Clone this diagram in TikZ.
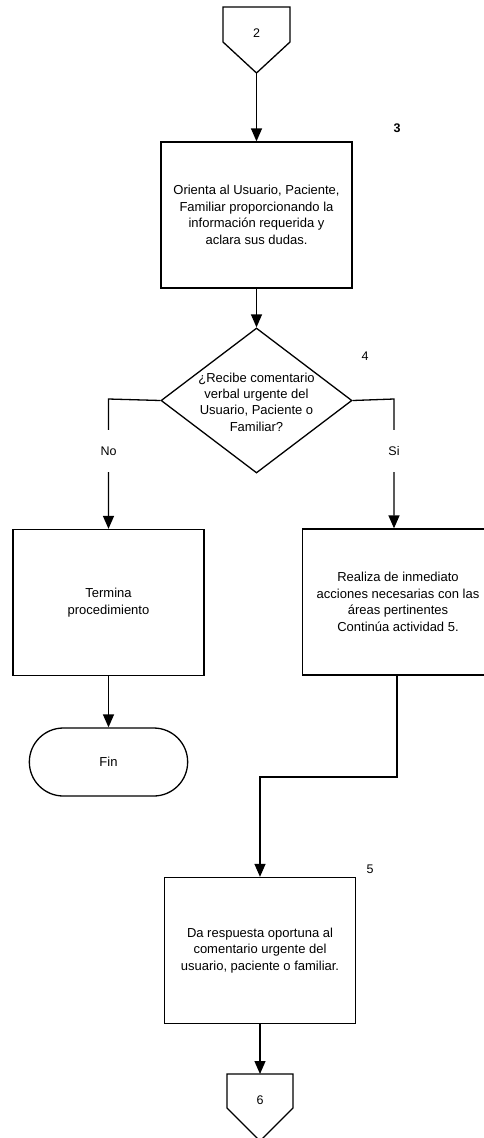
\documentclass[tikz,border=0pt]{standalone}
\usepackage{fontspec}
\setmainfont{Liberation Sans}
\usetikzlibrary{arrows.meta,shapes.geometric,shapes.misc,calc}
\begin{document}
\begin{tikzpicture}[x={(1pt,0)},y={(0,-1pt)},
  line width=1.3pt,
  flow/.style={-{Triangle[length=13pt,width=11pt]}},
  procbox/.style={draw,rectangle,minimum width=191pt,minimum height=146pt,inner sep=0pt,
    align=center,font=\fontsize{13pt}{16.6pt}\selectfont},
  txt/.style={align=center,font=\fontsize{13pt}{16.4pt}\selectfont,inner sep=0pt},
  num/.style={font=\fontsize{12.5pt}{14pt}\selectfont,inner sep=0pt},
  branch/.style={fill=white,font=\fontsize{12.5pt}{14pt}\selectfont,inner sep=1pt,minimum height=42pt},
  endbox/.style={draw,rounded rectangle,minimum width=165pt,minimum height=68pt,
    font=\fontsize{13pt}{15pt}\selectfont}]
\useasboundingbox (0,0) rectangle (484,1138);

% off-page connector 2
\draw (223,7) -- (290,7) -- (290,42) -- (256.5,73) -- (223,42) -- cycle;
\node[num] (p2) at (256.5,33) {2};
\coordinate (p2tip) at (256.5,73);

% step 3
\node[procbox] (b3) at (256.5,215) {Orienta al Usuario, Paciente,\\Familiar proporcionando la\\información requerida y\\aclara sus dudas.};
\node[num,font=\bfseries\fontsize{12.5pt}{14pt}\selectfont] (n3) at (397,128) {3};

% decision 4
\node[draw,diamond,minimum width=191pt,minimum height=145pt,inner sep=0pt] (dec) at (256.5,400.5) {};
\node[txt] (dect) at (256.5,402) {¿Recibe comentario\\verbal urgente del\\Usuario, Paciente o\\Familiar?};
\node[num] (n4) at (365,356) {4};

% branch No
\node[procbox] (bno) at (108.5,602.5) {Termina\\procedimiento};
\node[endbox] (fin) at (108.5,762) {Fin};

% branch Si
\node[procbox] (bsi) at (398,602) {Realiza de inmediato\\acciones necesarias con las\\áreas pertinentes\\Continúa actividad 5.};

% step 5
\node[procbox] (b5) at (260,950.5) {Da respuesta oportuna al\\comentario urgente del\\usuario, paciente o familiar.};
\node[num] (n5) at (370,869) {5};

% off-page connector 6
\draw (227,1074) -- (293,1074) -- (293,1108) -- (260,1141) -- (227,1108) -- cycle;
\node[num] (p6) at (260,1100) {6};
\coordinate (p6top) at (260,1074);

% connectors
\draw[flow] (p2tip) -- (b3.north);
\draw[flow] (b3.south) -- (dec.north);

\coordinate (noTurn) at (108.5,399);
\draw[flow] (dec.west) -- (noTurn) -- (noTurn |- bno.north);
\node[branch] (lno) at (108.5,451) {No};

\coordinate (siTurn) at (394,399);
\draw[flow] (dec.east) -- (siTurn) -- (siTurn |- bsi.north);
\node[branch] (lsi) at (394,451) {Si};

\draw[flow] (bno.south) -- (fin.north);

\coordinate (j1) at (397,777);
\coordinate (j2) at (260,777);
\draw[flow] (bsi.south -| j1) -- (j1) -- (j2) -- (b5.north);

\draw[flow] (b5.south) -- (p6top);
\end{tikzpicture}
\end{document}
